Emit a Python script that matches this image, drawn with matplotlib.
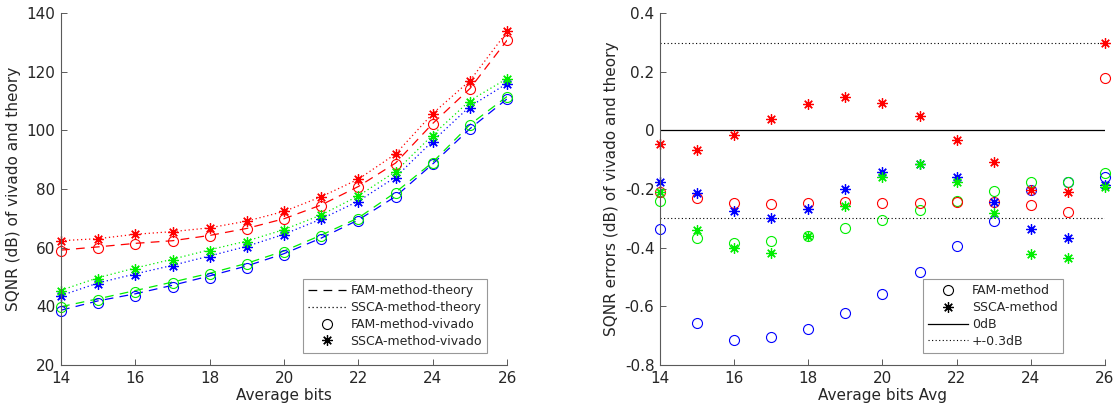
import numpy as np
import matplotlib
matplotlib.use("Agg")
import matplotlib.pyplot as plt
from matplotlib.lines import Line2D

plt.rcParams["font.family"] = ["DejaVu Sans"]
plt.rcParams["axes.unicode_minus"] = False

bits = [14, 15, 16, 17, 18, 19, 20, 21, 22, 23, 24, 25, 26]

# Theoretical SQNR (dB) for the three signal configurations
fam_theory_red = [59.2, 60.3, 61.5, 62.4, 64.2, 66.6, 69.9, 74.6, 80.9, 88.9, 102.4, 114.3, 130.8]
fam_theory_green = [39.9, 42.6, 45.4, 48.3, 51.3, 54.7, 58.9, 64.3, 70.2, 78.9, 89.2, 102.0, 111.6]
fam_theory_blue = [38.7, 41.9, 44.3, 47.2, 50.4, 53.8, 58.0, 63.3, 69.5, 77.5, 88.6, 100.6, 110.8]
ssca_theory_red = [62.4, 63.1, 64.6, 65.5, 66.8, 69.1, 72.4, 77.4, 83.4, 92.0, 105.8, 117.0, 133.7]
ssca_theory_green = [45.5, 49.8, 53.1, 56.1, 59.3, 62.3, 66.2, 71.2, 77.7, 86.0, 98.5, 110.2, 117.7]
ssca_theory_blue = [43.7, 48.0, 51.1, 54.0, 57.2, 60.5, 64.6, 69.8, 75.9, 84.1, 96.4, 108.2, 116.0]

# Vivado minus theory (dB)
fam_err_red = [-0.209, -0.230, -0.247, -0.250, -0.249, -0.245, -0.247, -0.249, -0.243, -0.245, -0.254, -0.277, 0.179]
fam_err_green = [-0.241, -0.368, -0.385, -0.377, -0.360, -0.334, -0.306, -0.272, -0.240, -0.207, -0.175, -0.175, -0.144]
fam_err_blue = [-0.336, -0.655, -0.713, -0.704, -0.677, -0.622, -0.559, -0.482, -0.394, -0.308, -0.203, -0.177, -0.158]
ssca_err_red = [-0.047, -0.067, -0.016, 0.039, 0.089, 0.113, 0.092, 0.050, -0.031, -0.107, -0.203, -0.211, 0.300]
ssca_err_green = [-0.209, -0.338, -0.400, -0.417, -0.360, -0.256, -0.160, -0.116, -0.175, -0.281, -0.422, -0.436, -0.194]
ssca_err_blue = [-0.177, -0.212, -0.275, -0.297, -0.268, -0.201, -0.141, -0.116, -0.158, -0.243, -0.336, -0.368, -0.186]

colors = {"red": "#ff0000", "green": "#00ee00", "blue": "#0000ff"}
fam_theory = {"red": fam_theory_red, "green": fam_theory_green, "blue": fam_theory_blue}
ssca_theory = {"red": ssca_theory_red, "green": ssca_theory_green, "blue": ssca_theory_blue}
fam_err = {"red": fam_err_red, "green": fam_err_green, "blue": fam_err_blue}
ssca_err = {"red": ssca_err_red, "green": ssca_err_green, "blue": ssca_err_blue}

STAR = (8, 2, 0)
DASH = (0, (7, 5))
DOT = (0, (1, 2.2))
text_col = "#262626"
axis_col = "#5a5a5a"
MS_O = 7.2
MS_S = 7.5

fig = plt.figure(figsize=(11.18, 4.12), dpi=100)
ax1 = fig.add_axes([0.0546, 0.114, 0.399, 0.854])
ax2 = fig.add_axes([0.5903, 0.114, 0.398, 0.854])

x = np.array(bits)
order = ["blue", "green", "red"]

# Left: theory curves and Vivado measurements
for c in order:
    ax1.plot(x, fam_theory[c], color=colors[c], ls=DASH, lw=0.9)
    ax1.plot(x, ssca_theory[c], color=colors[c], ls=DOT, lw=0.9)
for c in order:
    ax1.plot(x, np.array(fam_theory[c]) + np.array(fam_err[c]), ls="none",
             marker="o", mfc="none", mec=colors[c], ms=MS_O, mew=0.8, clip_on=False)
for c in order:
    ax1.plot(x, np.array(ssca_theory[c]) + np.array(ssca_err[c]), ls="none",
             marker=STAR, mec=colors[c], ms=MS_S, mew=0.9, clip_on=False)

ax1.set_xlim(14, 26)
ax1.set_ylim(20, 140)
ax1.set_xticks(range(14, 27, 2))
ax1.set_yticks(range(20, 141, 20))
ax1.set_xlabel("Average bits", fontsize=11, color=text_col, labelpad=2)
ax1.set_ylabel("SQNR (dB) of vivado and theory", fontsize=11, color=text_col, labelpad=4)

h1 = [Line2D([], [], color="k", ls=DASH, lw=0.9),
      Line2D([], [], color="k", ls=DOT, lw=0.9),
      Line2D([], [], color="k", ls="none", marker="o", mfc="none", ms=MS_O, mew=0.8),
      Line2D([], [], color="k", ls="none", marker=STAR, ms=MS_S, mew=0.9)]
leg1 = ax1.legend(h1, ["FAM-method-theory", "SSCA-method-theory",
                       "FAM-method-vivado", "SSCA-method-vivado"],
                  loc="lower right", bbox_to_anchor=(0.955, 0.035), fontsize=9,
                  frameon=True, fancybox=False, edgecolor="#7f7f7f",
                  handlelength=3.0, handletextpad=0.4, borderpad=0.4,
                  labelspacing=0.3, borderaxespad=0)
leg1.get_frame().set_linewidth(0.8)
for t in leg1.get_texts():
    t.set_color(text_col)

# Right: errors between Vivado and theory
ax2.plot([14, 26], [0, 0], color="k", lw=0.9)
ax2.plot([14, 26], [0.3, 0.3], color="k", ls=DOT, lw=0.8)
ax2.plot([14, 26], [-0.3, -0.3], color="k", ls=DOT, lw=0.8)
for c in order:
    ax2.plot(x, fam_err[c], ls="none", marker="o", mfc="none",
             mec=colors[c], ms=MS_O, mew=0.8, clip_on=False)
for c in order:
    ax2.plot(x, ssca_err[c], ls="none", marker=STAR, mec=colors[c],
             ms=MS_S, mew=0.9, clip_on=False)

ax2.set_xlim(14, 26)
ax2.set_ylim(-0.8, 0.4)
ax2.set_xticks(range(14, 27, 2))
ax2.set_yticks(np.round(np.arange(-0.8, 0.41, 0.2), 1))
ax2.set_yticklabels(["-0.8", "-0.6", "-0.4", "-0.2", "0", "0.2", "0.4"])
ax2.set_xlabel("Average bits Avg", fontsize=11, color=text_col, labelpad=2)
ax2.set_ylabel("SQNR errors (dB) of vivado and theory", fontsize=11, color=text_col, labelpad=4)

h2 = [Line2D([], [], color="k", ls="none", marker="o", mfc="none", ms=MS_O, mew=0.8),
      Line2D([], [], color="k", ls="none", marker=STAR, ms=MS_S, mew=0.9),
      Line2D([], [], color="k", lw=0.9),
      Line2D([], [], color="k", ls=DOT, lw=0.8)]
leg2 = ax2.legend(h2, ["FAM-method", "SSCA-method", "0dB", "+-0.3dB"],
                  loc="lower right", bbox_to_anchor=(0.905, 0.035), fontsize=9,
                  frameon=True, fancybox=False, edgecolor="#7f7f7f",
                  handlelength=3.2, handletextpad=0.35, borderpad=0.4,
                  labelspacing=0.3, borderaxespad=0)
leg2.get_frame().set_linewidth(0.8)
for t in leg2.get_texts():
    t.set_color(text_col)

for ax in (ax1, ax2):
    ax.spines["top"].set_visible(False)
    ax.spines["right"].set_visible(False)
    for s in ("left", "bottom"):
        ax.spines[s].set_color(axis_col)
        ax.spines[s].set_linewidth(0.8)
    ax.tick_params(direction="in", length=4, width=0.7, color=axis_col,
                   labelcolor=text_col, labelsize=11, pad=4)

fig.savefig("out.png", dpi=100, facecolor="white")
